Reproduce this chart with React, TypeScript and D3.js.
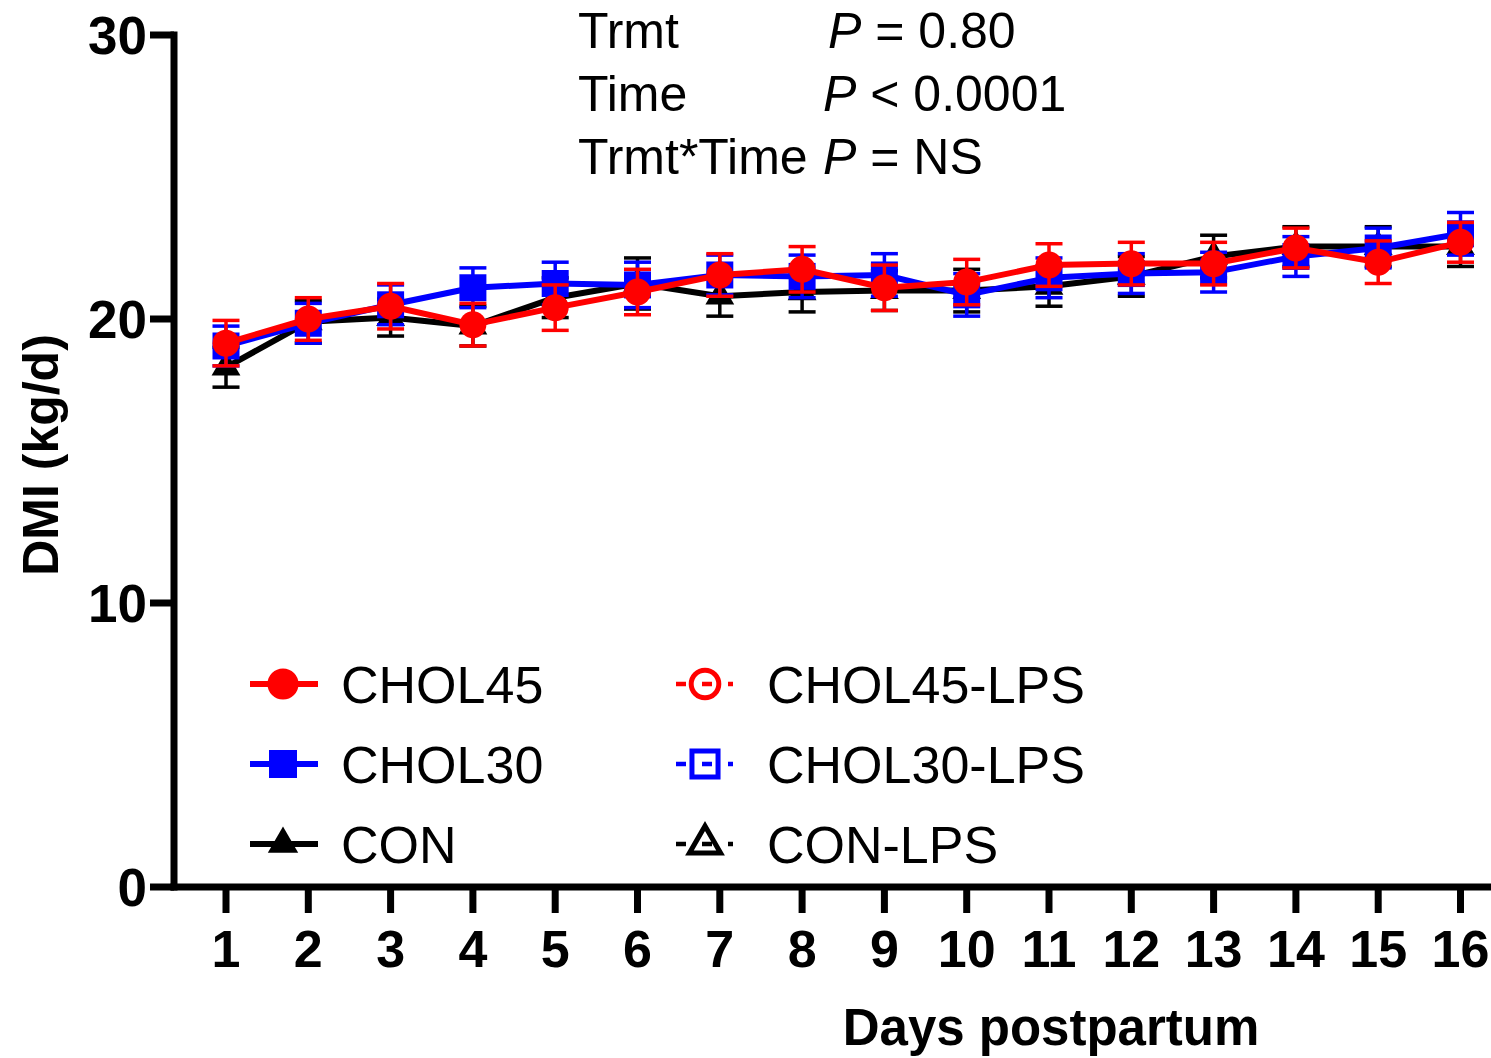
import React from 'react'
import * as d3 from 'd3'

const days = [1, 2, 3, 4, 5, 6, 7, 8, 9, 10, 11, 12, 13, 14, 15, 16]
const yTicks = [0, 10, 20, 30]

const chol45 = [19.15, 20.0, 20.45, 19.8, 20.4, 20.95, 21.55, 21.75, 21.1, 21.3, 21.9, 21.95, 21.95, 22.5, 22.0, 22.7]
const chol45Sem = [0.8, 0.75, 0.8, 0.75, 0.8, 0.8, 0.75, 0.8, 0.8, 0.8, 0.75, 0.75, 0.75, 0.7, 0.75, 0.7]
const chol30 = [19.05, 19.85, 20.5, 21.1, 21.25, 21.2, 21.55, 21.5, 21.55, 20.85, 21.45, 21.6, 21.65, 22.2, 22.5, 23.0]
const chol30Sem = [0.7, 0.7, 0.7, 0.7, 0.75, 0.8, 0.7, 0.75, 0.75, 0.75, 0.7, 0.7, 0.7, 0.7, 0.7, 0.75]
const con = [18.3, 19.9, 20.05, 19.75, 20.75, 21.25, 20.8, 20.95, 21.0, 21.0, 21.15, 21.5, 22.2, 22.55, 22.55, 22.55]
const conSem = [0.7, 0.75, 0.65, 0.7, 0.7, 0.9, 0.7, 0.7, 0.7, 0.75, 0.7, 0.7, 0.75, 0.7, 0.7, 0.7]

const stats = [
  ['Trmt', 'P', ' = 0.80'],
  ['Time', 'P', ' < 0.0001'],
  ['Trmt*Time', 'P', ' = NS'],
]

const legendLeft = ['CHOL45', 'CHOL30', 'CON']
const legendRight = ['CHOL45-LPS', 'CHOL30-LPS', 'CON-LPS']

const font = '"Liberation Sans", Arial, Helvetica, sans-serif'

function App() {
  const W = 1491, H = 1058
  const x = d3.scaleLinear().domain([1, 16]).range([226, 1460.5])
  const y = d3.scaleLinear().domain([0, 30]).range([887, 35])
  const axisX = 174

  const line = d3.line<number>()
    .x((d, i) => x(days[i]))
    .y(d => y(d))

  const series = [
    { name: 'CON', vals: con, sem: conSem, color: '#000000', shape: d3.symbolTriangle, size: 360 },
    { name: 'CHOL30', vals: chol30, sem: chol30Sem, color: '#0000ff', shape: d3.symbolSquare, size: 729 },
    { name: 'CHOL45', vals: chol45, sem: chol45Sem, color: '#ff0000', shape: d3.symbolCircle, size: 572 },
  ]
  const legendShapes = [
    { shape: d3.symbolCircle, size: 760, color: '#ff0000' },
    { shape: d3.symbolSquare, size: 784, color: '#0000ff' },
    { shape: d3.symbolTriangle, size: 400, color: '#000000' },
  ]
  const legendOpen = [
    { shape: d3.symbolCircle, size: 600, color: '#ff0000' },
    { shape: d3.symbolSquare, size: 680, color: '#0000ff' },
    { shape: d3.symbolTriangle, size: 420, color: '#000000' },
  ]
  const legendY = [684, 764, 844]
  const cap = 13.5

  return (
    <svg width={W} height={H} style={{ position: 'absolute', left: 0, top: 0, background: '#fff' }}>
      {/* stats text */}
      <g fontFamily={font} fontSize={50} fill="#000">
        {stats.map((s, i) => (
          <text key={i} x={578} y={48 + i * 63}>
            {s[0]}
            <tspan x={i === 0 ? 828 : 823} fontStyle="italic">{s[1]}</tspan>
            <tspan>{s[2]}</tspan>
          </text>
        ))}
      </g>

      {/* series */}
      {series.map(s => (
        <g key={s.name}>
          <path d={line(s.vals) || ''} fill="none" stroke={s.color} strokeWidth={6} strokeLinejoin="round" />
          {s.vals.map((v, i) => (
            <g key={i} stroke={s.color} strokeWidth={3.5}>
              <line x1={x(days[i])} x2={x(days[i])} y1={y(v - s.sem[i])} y2={y(v + s.sem[i])} />
              <line x1={x(days[i]) - cap} x2={x(days[i]) + cap} y1={y(v + s.sem[i])} y2={y(v + s.sem[i])} />
              <line x1={x(days[i]) - cap} x2={x(days[i]) + cap} y1={y(v - s.sem[i])} y2={y(v - s.sem[i])} />
            </g>
          ))}
          {s.vals.map((v, i) => (
            <path key={'m' + i} d={d3.symbol().type(s.shape).size(s.size)() || ''}
              transform={`translate(${x(days[i])},${y(v)})`} fill={s.color} />
          ))}
        </g>
      ))}

      {/* y axis */}
      <line x1={axisX} x2={axisX} y1={y(30) - 3.5} y2={y(0) + 3.5} stroke="#000" strokeWidth={7} />
      {yTicks.map(t => (
        <g key={t}>
          <line x1={150} x2={axisX} y1={y(t)} y2={y(t)} stroke="#000" strokeWidth={7} />
          <text x={147} y={y(t)} dy="0.36em" textAnchor="end" fontFamily={font} fontWeight="bold" fontSize={53}>{t}</text>
        </g>
      ))}
      <text transform="translate(58,455) rotate(-90)" textAnchor="middle" fontFamily={font} fontWeight="bold" fontSize={50}>DMI (kg/d)</text>

      {/* x axis */}
      <line x1={axisX - 3.5} x2={W} y1={y(0)} y2={y(0)} stroke="#000" strokeWidth={7} />
      {days.map(d => (
        <g key={d}>
          <line x1={x(d)} x2={x(d)} y1={y(0)} y2={913} stroke="#000" strokeWidth={7} />
          <text x={x(d)} y={967} textAnchor="middle" fontFamily={font} fontWeight="bold" fontSize={52}>{d}</text>
        </g>
      ))}
      <text x={1051} y={1045} textAnchor="middle" fontFamily={font} fontWeight="bold" fontSize={51}>Days postpartum</text>

      {/* legend */}
      <g fontFamily={font} fontSize={52}>
        {legendLeft.map((name, i) => (
          <g key={name}>
            <line x1={250} x2={318} y1={legendY[i]} y2={legendY[i]} stroke={legendShapes[i].color} strokeWidth={6} />
            <path d={d3.symbol().type(legendShapes[i].shape).size(legendShapes[i].size)() || ''}
              transform={`translate(283,${legendY[i]})`} fill={legendShapes[i].color} />
            <text x={341} y={legendY[i] + 19}>{name}</text>
          </g>
        ))}
        {legendRight.map((name, i) => (
          <g key={name}>
            <line x1={676} x2={733} y1={legendY[i]} y2={legendY[i]} stroke={legendOpen[i].color} strokeWidth={4.5} strokeDasharray="10,16" />
            <path d={d3.symbol().type(legendOpen[i].shape).size(legendOpen[i].size)() || ''}
              transform={`translate(705,${legendY[i]})`} fill="none" stroke={legendOpen[i].color} strokeWidth={5} />
            <text x={767} y={legendY[i] + 19}>{name}</text>
          </g>
        ))}
      </g>
    </svg>
  )
}

export default App
